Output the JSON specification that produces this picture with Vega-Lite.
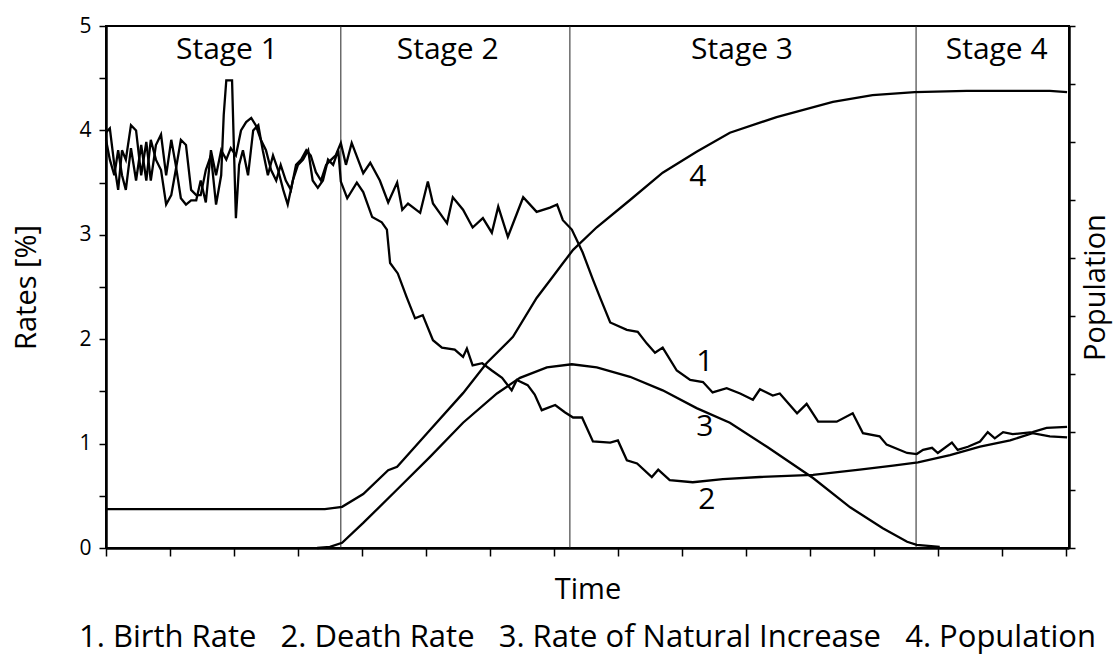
{
  "$schema": "https://vega.github.io/schema/vega-lite/v6.json",
  "width": 963,
  "height": 522,
  "autosize": "none",
  "padding": {"left": 106, "top": 26, "right": 49, "bottom": 109},
  "background": "white",
  "title": {
    "text": "1. Birth Rate\u00a0\u00a0 2. Death Rate\u00a0\u00a0 3. Rate of Natural Increase\u00a0\u00a0 4. Population",
    "orient": "bottom",
    "anchor": "middle",
    "font": "Open Sans",
    "fontSize": 31,
    "fontWeight": "normal",
    "color": "black",
    "offset": 18,
    "dx": 0
  },
  "config": {
    "view": {"stroke": "black", "strokeWidth": 2},
    "axis": {
      "grid": false,
      "domainColor": "black",
      "domainWidth": 2.5,
      "tickColor": "black",
      "tickWidth": 1.5,
      "labelColor": "black",
      "titleColor": "black",
      "labelFont": "Open Sans",
      "titleFont": "Open Sans",
      "titleFontWeight": "normal",
      "labelFontSize": 21,
      "titleFontSize": 29
    }
  },
  "datasets": {
    "rates": [
      {"s": "birth", "t": 0, "v": 3.98}, {"s": "birth", "t": 0.06, "v": 4.02}, {"s": "birth", "t": 0.13, "v": 3.67}, {"s": "birth", "t": 0.19, "v": 3.43}, {"s": "birth", "t": 0.25, "v": 3.81}, {"s": "birth", "t": 0.31, "v": 3.72}, {"s": "birth", "t": 0.39, "v": 4.05}, {"s": "birth", "t": 0.47, "v": 4.0}, {"s": "birth", "t": 0.55, "v": 3.57}, {"s": "birth", "t": 0.63, "v": 3.89}, {"s": "birth", "t": 0.7, "v": 3.52}, {"s": "birth", "t": 0.78, "v": 3.86}, {"s": "birth", "t": 0.86, "v": 3.96}, {"s": "birth", "t": 0.94, "v": 3.57}, {"s": "birth", "t": 1.02, "v": 3.91}, {"s": "birth", "t": 1.09, "v": 3.67}, {"s": "birth", "t": 1.17, "v": 3.35}, {"s": "birth", "t": 1.25, "v": 3.29}, {"s": "birth", "t": 1.33, "v": 3.33}, {"s": "birth", "t": 1.41, "v": 3.33}, {"s": "birth", "t": 1.48, "v": 3.52}, {"s": "birth", "t": 1.56, "v": 3.31}, {"s": "birth", "t": 1.64, "v": 3.81}, {"s": "birth", "t": 1.72, "v": 3.57}, {"s": "birth", "t": 1.8, "v": 3.81}, {"s": "birth", "t": 1.88, "v": 3.72}, {"s": "birth", "t": 1.95, "v": 3.83}, {"s": "birth", "t": 2.03, "v": 3.76}, {"s": "birth", "t": 2.11, "v": 4.0}, {"s": "birth", "t": 2.19, "v": 4.08}, {"s": "birth", "t": 2.27, "v": 4.12}, {"s": "birth", "t": 2.34, "v": 4.05}, {"s": "birth", "t": 2.42, "v": 3.91}, {"s": "birth", "t": 2.5, "v": 3.81}, {"s": "birth", "t": 2.58, "v": 3.62}, {"s": "birth", "t": 2.66, "v": 3.52}, {"s": "birth", "t": 2.73, "v": 3.67}, {"s": "birth", "t": 2.81, "v": 3.52}, {"s": "birth", "t": 2.89, "v": 3.43}, {"s": "birth", "t": 2.97, "v": 3.67}, {"s": "birth", "t": 3.05, "v": 3.72}, {"s": "birth", "t": 3.13, "v": 3.81}, {"s": "birth", "t": 3.2, "v": 3.76}, {"s": "birth", "t": 3.28, "v": 3.6}, {"s": "birth", "t": 3.36, "v": 3.52}, {"s": "birth", "t": 3.44, "v": 3.67}, {"s": "birth", "t": 3.52, "v": 3.72}, {"s": "birth", "t": 3.59, "v": 3.76}, {"s": "birth", "t": 3.67, "v": 3.88}, {"s": "birth", "t": 3.75, "v": 3.67}, {"s": "birth", "t": 3.84, "v": 3.88}, {"s": "birth", "t": 4.02, "v": 3.59}, {"s": "birth", "t": 4.13, "v": 3.69}, {"s": "birth", "t": 4.28, "v": 3.52}, {"s": "birth", "t": 4.41, "v": 3.31}, {"s": "birth", "t": 4.55, "v": 3.5}, {"s": "birth", "t": 4.63, "v": 3.24}, {"s": "birth", "t": 4.72, "v": 3.3}, {"s": "birth", "t": 4.91, "v": 3.21}, {"s": "birth", "t": 5.03, "v": 3.51}, {"s": "birth", "t": 5.11, "v": 3.3}, {"s": "birth", "t": 5.33, "v": 3.11}, {"s": "birth", "t": 5.42, "v": 3.36}, {"s": "birth", "t": 5.58, "v": 3.24}, {"s": "birth", "t": 5.73, "v": 3.07}, {"s": "birth", "t": 5.89, "v": 3.16}, {"s": "birth", "t": 6.03, "v": 3.02}, {"s": "birth", "t": 6.13, "v": 3.27}, {"s": "birth", "t": 6.28, "v": 2.98}, {"s": "birth", "t": 6.52, "v": 3.36}, {"s": "birth", "t": 6.73, "v": 3.22}, {"s": "birth", "t": 6.94, "v": 3.26}, {"s": "birth", "t": 7.05, "v": 3.29}, {"s": "birth", "t": 7.14, "v": 3.14}, {"s": "birth", "t": 7.28, "v": 3.05}, {"s": "birth", "t": 7.45, "v": 2.83}, {"s": "birth", "t": 7.61, "v": 2.57}, {"s": "birth", "t": 7.72, "v": 2.4}, {"s": "birth", "t": 7.88, "v": 2.16}, {"s": "birth", "t": 8.14, "v": 2.09}, {"s": "birth", "t": 8.31, "v": 2.07}, {"s": "birth", "t": 8.45, "v": 1.96}, {"s": "birth", "t": 8.58, "v": 1.87}, {"s": "birth", "t": 8.7, "v": 1.92}, {"s": "birth", "t": 8.92, "v": 1.7}, {"s": "birth", "t": 9.13, "v": 1.61}, {"s": "birth", "t": 9.33, "v": 1.59}, {"s": "birth", "t": 9.48, "v": 1.49}, {"s": "birth", "t": 9.7, "v": 1.53}, {"s": "birth", "t": 9.91, "v": 1.48}, {"s": "birth", "t": 10.11, "v": 1.42}, {"s": "birth", "t": 10.22, "v": 1.52}, {"s": "birth", "t": 10.42, "v": 1.46}, {"s": "birth", "t": 10.53, "v": 1.48}, {"s": "birth", "t": 10.8, "v": 1.29}, {"s": "birth", "t": 10.95, "v": 1.38}, {"s": "birth", "t": 11.13, "v": 1.21}, {"s": "birth", "t": 11.42, "v": 1.21}, {"s": "birth", "t": 11.67, "v": 1.29}, {"s": "birth", "t": 11.83, "v": 1.1}, {"s": "birth", "t": 12.09, "v": 1.07}, {"s": "birth", "t": 12.2, "v": 0.99}, {"s": "birth", "t": 12.52, "v": 0.91}, {"s": "birth", "t": 12.67, "v": 0.9}, {"s": "birth", "t": 12.77, "v": 0.94}, {"s": "birth", "t": 12.91, "v": 0.96}, {"s": "birth", "t": 13.0, "v": 0.91}, {"s": "birth", "t": 13.22, "v": 1.01}, {"s": "birth", "t": 13.31, "v": 0.94}, {"s": "birth", "t": 13.47, "v": 0.97}, {"s": "birth", "t": 13.66, "v": 1.02}, {"s": "birth", "t": 13.78, "v": 1.11}, {"s": "birth", "t": 13.89, "v": 1.05}, {"s": "birth", "t": 14.02, "v": 1.11}, {"s": "birth", "t": 14.17, "v": 1.09}, {"s": "birth", "t": 14.48, "v": 1.11}, {"s": "birth", "t": 14.7, "v": 1.15}, {"s": "birth", "t": 15.02, "v": 1.16},
      {"s": "death", "t": 0, "v": 3.91}, {"s": "death", "t": 0.06, "v": 3.72}, {"s": "death", "t": 0.13, "v": 3.57}, {"s": "death", "t": 0.19, "v": 3.81}, {"s": "death", "t": 0.25, "v": 3.57}, {"s": "death", "t": 0.31, "v": 3.43}, {"s": "death", "t": 0.39, "v": 3.83}, {"s": "death", "t": 0.47, "v": 3.52}, {"s": "death", "t": 0.55, "v": 3.86}, {"s": "death", "t": 0.63, "v": 3.52}, {"s": "death", "t": 0.7, "v": 3.91}, {"s": "death", "t": 0.78, "v": 3.72}, {"s": "death", "t": 0.86, "v": 3.62}, {"s": "death", "t": 0.94, "v": 3.29}, {"s": "death", "t": 1.02, "v": 3.38}, {"s": "death", "t": 1.09, "v": 3.62}, {"s": "death", "t": 1.17, "v": 3.91}, {"s": "death", "t": 1.25, "v": 3.86}, {"s": "death", "t": 1.33, "v": 3.43}, {"s": "death", "t": 1.41, "v": 3.38}, {"s": "death", "t": 1.48, "v": 3.38}, {"s": "death", "t": 1.56, "v": 3.62}, {"s": "death", "t": 1.64, "v": 3.76}, {"s": "death", "t": 1.72, "v": 3.29}, {"s": "death", "t": 1.8, "v": 3.57}, {"s": "death", "t": 1.84, "v": 4.15}, {"s": "death", "t": 1.88, "v": 4.48}, {"s": "death", "t": 1.97, "v": 4.48}, {"s": "death", "t": 2.0, "v": 3.81}, {"s": "death", "t": 2.03, "v": 3.16}, {"s": "death", "t": 2.08, "v": 3.67}, {"s": "death", "t": 2.14, "v": 3.81}, {"s": "death", "t": 2.22, "v": 3.57}, {"s": "death", "t": 2.3, "v": 4.0}, {"s": "death", "t": 2.38, "v": 4.05}, {"s": "death", "t": 2.45, "v": 3.81}, {"s": "death", "t": 2.53, "v": 3.57}, {"s": "death", "t": 2.61, "v": 3.76}, {"s": "death", "t": 2.69, "v": 3.62}, {"s": "death", "t": 2.77, "v": 3.43}, {"s": "death", "t": 2.84, "v": 3.29}, {"s": "death", "t": 2.92, "v": 3.52}, {"s": "death", "t": 3.0, "v": 3.67}, {"s": "death", "t": 3.08, "v": 3.72}, {"s": "death", "t": 3.16, "v": 3.81}, {"s": "death", "t": 3.23, "v": 3.52}, {"s": "death", "t": 3.31, "v": 3.45}, {"s": "death", "t": 3.39, "v": 3.52}, {"s": "death", "t": 3.47, "v": 3.72}, {"s": "death", "t": 3.55, "v": 3.67}, {"s": "death", "t": 3.63, "v": 3.81}, {"s": "death", "t": 3.67, "v": 3.51}, {"s": "death", "t": 3.77, "v": 3.35}, {"s": "death", "t": 3.92, "v": 3.5}, {"s": "death", "t": 4.02, "v": 3.41}, {"s": "death", "t": 4.16, "v": 3.17}, {"s": "death", "t": 4.31, "v": 3.12}, {"s": "death", "t": 4.39, "v": 3.05}, {"s": "death", "t": 4.44, "v": 2.73}, {"s": "death", "t": 4.56, "v": 2.63}, {"s": "death", "t": 4.7, "v": 2.4}, {"s": "death", "t": 4.83, "v": 2.2}, {"s": "death", "t": 4.95, "v": 2.23}, {"s": "death", "t": 5.11, "v": 1.99}, {"s": "death", "t": 5.25, "v": 1.92}, {"s": "death", "t": 5.45, "v": 1.9}, {"s": "death", "t": 5.58, "v": 1.83}, {"s": "death", "t": 5.64, "v": 1.91}, {"s": "death", "t": 5.73, "v": 1.75}, {"s": "death", "t": 5.88, "v": 1.77}, {"s": "death", "t": 6.03, "v": 1.7}, {"s": "death", "t": 6.19, "v": 1.63}, {"s": "death", "t": 6.34, "v": 1.51}, {"s": "death", "t": 6.42, "v": 1.61}, {"s": "death", "t": 6.59, "v": 1.56}, {"s": "death", "t": 6.7, "v": 1.47}, {"s": "death", "t": 6.81, "v": 1.32}, {"s": "death", "t": 7.02, "v": 1.37}, {"s": "death", "t": 7.17, "v": 1.3}, {"s": "death", "t": 7.3, "v": 1.25}, {"s": "death", "t": 7.44, "v": 1.25}, {"s": "death", "t": 7.61, "v": 1.02}, {"s": "death", "t": 7.88, "v": 1.01}, {"s": "death", "t": 8.0, "v": 1.03}, {"s": "death", "t": 8.14, "v": 0.84}, {"s": "death", "t": 8.3, "v": 0.81}, {"s": "death", "t": 8.53, "v": 0.68}, {"s": "death", "t": 8.63, "v": 0.75}, {"s": "death", "t": 8.81, "v": 0.65}, {"s": "death", "t": 9.17, "v": 0.63}, {"s": "death", "t": 9.64, "v": 0.66}, {"s": "death", "t": 10.22, "v": 0.68}, {"s": "death", "t": 11.05, "v": 0.7}, {"s": "death", "t": 11.78, "v": 0.75}, {"s": "death", "t": 12.3, "v": 0.79}, {"s": "death", "t": 12.69, "v": 0.82}, {"s": "death", "t": 13.19, "v": 0.89}, {"s": "death", "t": 13.66, "v": 0.97}, {"s": "death", "t": 14.13, "v": 1.03}, {"s": "death", "t": 14.48, "v": 1.1}, {"s": "death", "t": 14.75, "v": 1.07}, {"s": "death", "t": 15.02, "v": 1.06},
      {"s": "natural", "t": 3.3, "v": 0}, {"s": "natural", "t": 3.5, "v": 0.01}, {"s": "natural", "t": 3.69, "v": 0.05}, {"s": "natural", "t": 4.02, "v": 0.24}, {"s": "natural", "t": 4.55, "v": 0.56}, {"s": "natural", "t": 5.06, "v": 0.87}, {"s": "natural", "t": 5.58, "v": 1.2}, {"s": "natural", "t": 6.11, "v": 1.48}, {"s": "natural", "t": 6.47, "v": 1.63}, {"s": "natural", "t": 6.89, "v": 1.73}, {"s": "natural", "t": 7.28, "v": 1.76}, {"s": "natural", "t": 7.67, "v": 1.73}, {"s": "natural", "t": 8.19, "v": 1.64}, {"s": "natural", "t": 8.7, "v": 1.51}, {"s": "natural", "t": 9.23, "v": 1.34}, {"s": "natural", "t": 9.75, "v": 1.2}, {"s": "natural", "t": 10.33, "v": 0.97}, {"s": "natural", "t": 11.05, "v": 0.67}, {"s": "natural", "t": 11.63, "v": 0.39}, {"s": "natural", "t": 12.14, "v": 0.19}, {"s": "natural", "t": 12.52, "v": 0.06}, {"s": "natural", "t": 12.67, "v": 0.03}, {"s": "natural", "t": 13.03, "v": 0.01}
    ],
    "pop": [
      {"t": 0, "p": 0.67}, {"t": 3.42, "p": 0.67}, {"t": 3.69, "p": 0.71}, {"t": 4.02, "p": 0.93}, {"t": 4.41, "p": 1.34}, {"t": 4.55, "p": 1.4}, {"t": 5.06, "p": 2.03}, {"t": 5.58, "p": 2.67}, {"t": 5.95, "p": 3.19}, {"t": 6.36, "p": 3.64}, {"t": 6.73, "p": 4.31}, {"t": 6.97, "p": 4.66}, {"t": 7.14, "p": 4.91}, {"t": 7.3, "p": 5.14}, {"t": 7.67, "p": 5.53}, {"t": 8.19, "p": 6.0}, {"t": 8.7, "p": 6.47}, {"t": 9.23, "p": 6.83}, {"t": 9.75, "p": 7.16}, {"t": 10.48, "p": 7.43}, {"t": 11.36, "p": 7.69}, {"t": 11.98, "p": 7.81}, {"t": 12.64, "p": 7.86}, {"t": 13.45, "p": 7.88}, {"t": 14.75, "p": 7.88}, {"t": 15.02, "p": 7.86}
    ],
    "stages": [{"t": 3.67}, {"t": 7.25}, {"t": 12.66}],
    "stageLabels": [
      {"t": 1.89, "v": 4.77, "label": "Stage 1"},
      {"t": 5.34, "v": 4.77, "label": "Stage 2"},
      {"t": 9.94, "v": 4.77, "label": "Stage 3"},
      {"t": 13.92, "v": 4.77, "label": "Stage 4"}
    ],
    "lineLabels": [
      {"t": 9.36, "v": 1.78, "label": "1"},
      {"t": 9.39, "v": 0.46, "label": "2"},
      {"t": 9.36, "v": 1.16, "label": "3"},
      {"t": 9.25, "v": 3.55, "label": "4"}
    ]
  },
  "layer": [
    {
      "layer": [
        {
          "data": {"name": "stages"},
          "mark": {"type": "rule", "color": "#222", "strokeWidth": 1},
          "encoding": {
            "x": {"field": "t", "type": "quantitative", "scale": {"domain": [0, 15.05], "nice": false, "zero": false}, "title": "Time"}
          }
        },
        {
          "data": {"name": "rates"},
          "mark": {"type": "line", "color": "black", "strokeWidth": 2.3},
          "encoding": {
            "x": {"field": "t", "type": "quantitative", "scale": {"domain": [0, 15.05], "nice": false, "zero": false}, "title": "Time",
              "axis": {"values": [0, 1, 2, 3, 4, 5, 6, 7, 8, 9, 10, 11, 12, 13, 14, 15], "labels": false, "tickSize": 8, "titlePadding": 19}},
            "y": {"field": "v", "type": "quantitative", "scale": {"domain": [0, 5], "nice": false}, "title": "Rates [%]",
              "axis": {"values": [0, 0.5, 1, 1.5, 2, 2.5, 3, 3.5, 4, 4.5, 5], "labelExpr": "datum.value % 1 === 0 ? '' + datum.value : ''", "tickSize": 7, "labelPadding": 8, "titlePadding": 37}},
            "detail": {"field": "s"}
          }
        },
        {
          "data": {"name": "stageLabels"},
          "mark": {"type": "text", "font": "Open Sans", "fontSize": 30, "color": "black", "baseline": "middle", "align": "center"},
          "encoding": {
            "x": {"field": "t", "type": "quantitative", "title": "Time"},
            "y": {"field": "v", "type": "quantitative", "title": "Rates [%]"},
            "text": {"field": "label"}
          }
        },
        {
          "data": {"name": "lineLabels"},
          "mark": {"type": "text", "font": "Open Sans", "fontSize": 30, "color": "black", "baseline": "middle", "align": "center"},
          "encoding": {
            "x": {"field": "t", "type": "quantitative", "title": "Time"},
            "y": {"field": "v", "type": "quantitative", "title": "Rates [%]"},
            "text": {"field": "label"}
          }
        }
      ]
    },
    {
      "data": {"name": "pop"},
      "mark": {"type": "line", "color": "black", "strokeWidth": 2.3},
      "encoding": {
        "x": {"field": "t", "type": "quantitative", "title": "Time"},
        "y": {"field": "p", "type": "quantitative", "scale": {"domain": [0, 9], "nice": false}, "title": "Population",
          "axis": {"orient": "right", "values": [0, 1, 2, 3, 4, 5, 6, 7, 8, 9], "labels": false, "tickSize": 6, "titlePadding": 6, "titleAngle": 270, "titleBaseline": "top"}}
      }
    }
  ],
  "resolve": {"scale": {"y": "independent"}, "axis": {"y": "independent"}}
}
